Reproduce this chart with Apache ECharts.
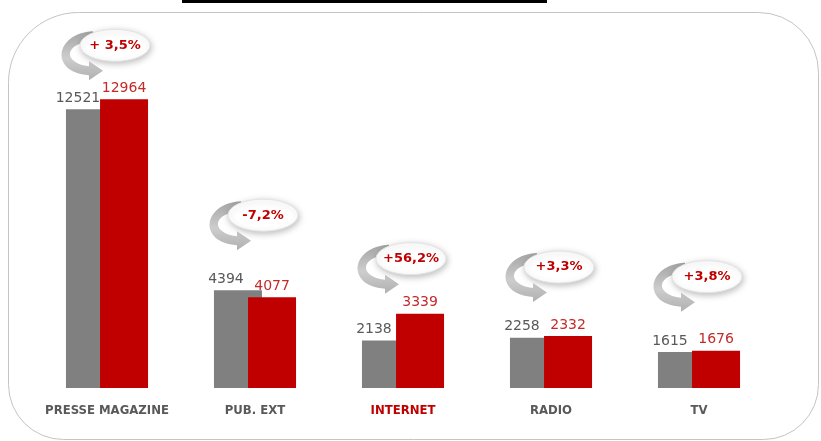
<!DOCTYPE html>
<html>
<head>
<meta charset="utf-8">
<script src="https://cdn.jsdelivr.net/npm/echarts@6/dist/echarts.min.js"></script>
<style>
  html, body { margin: 0; padding: 0; background: #fff; }
  #chart { width: 821px; height: 441px; }
</style>
</head>
<body>
<div id="chart"></div>
<script>
// Media investment by channel, previous year vs current year
const categories = ['PRESSE MAGAZINE', 'PUB. EXT', 'INTERNET', 'RADIO', 'TV'];
const previousYear = [12521, 4394, 2138, 2258, 1615];
const currentYear = [12964, 4077, 3339, 2332, 1676];
const changeLabels = ['+ 3,5%', '-7,2%', '+56,2%', '+3,3%', '+3,8%'];
const highlightCategory = 'INTERNET';

// Layout: how far each change bubble sits above its tallest bar (px)
const bubbleRise = [54, 75, 55, 69, 74];
const bubbleShiftX = 8;

const GREY = '#808080';
const RED = '#c00000';
const TEXT_GREY = '#595959';

const chart = echarts.init(document.getElementById('chart'), null, { renderer: 'canvas' });

// Curved "turn" arrow drawn left of each bubble, in bubble-local pixels
const ARROW_PATH = 'M -22 -14 C -60 -12 -66 27 -26 30 L -26 35 L -12 25.5 L -26 16 L -26 21 C -52 18 -52 -2 -22 -4 Z';
const ELLIPSE_PATH = 'M -35 0 A 35 16 0 1 0 35 0 A 35 16 0 1 0 -35 0 Z';

const bubbleData = categories.map((c, i) => [i, Math.max(previousYear[i], currentYear[i])]);

const option = {
  backgroundColor: '#ffffff',
  animation: false,
  grid: { left: 33, right: 48, top: 54, bottom: 53 },
  xAxis: {
    type: 'category',
    data: categories,
    axisLine: { show: false },
    axisTick: { show: false },
    axisLabel: {
      interval: 0,
      margin: 16,
      fontSize: 13,
      fontWeight: 'bold',
      fontFamily: "'Liberation Sans Narrow', 'DejaVu Sans Condensed', sans-serif",
      color: (value) => value === highlightCategory ? RED : TEXT_GREY
    }
  },
  yAxis: {
    type: 'value',
    min: 0,
    max: 15000,
    show: false,
    splitLine: { show: false }
  },
  graphic: [
    {
      type: 'rect',
      z: -10,
      shape: { x: 182, y: 0, width: 365, height: 3 },
      style: { fill: '#000' }
    },
    {
      type: 'rect',
      z: -10,
      shape: { x: 8.5, y: 12.5, width: 810, height: 427, r: [70, 60, 55, 55] },
      style: { fill: 'none', stroke: '#c4c4c4', lineWidth: 1 }
    }
  ],
  series: [
    {
      type: 'bar',
      data: previousYear,
      barWidth: 48,
      barGap: '-29%',
      itemStyle: { color: GREY },
      label: {
        show: true,
        position: 'top',
        distance: 4,
        offset: [-12, 0],
        color: TEXT_GREY,
        fontSize: 14,
        fontFamily: "'DejaVu Sans', sans-serif"
      }
    },
    {
      type: 'bar',
      data: currentYear,
      barWidth: 48,
      barGap: '-29%',
      itemStyle: { color: RED },
      label: {
        show: true,
        position: 'top',
        distance: 4,
        color: '#c42a2a',
        fontSize: 14,
        fontFamily: "'DejaVu Sans', sans-serif"
      }
    },
    {
      type: 'custom',
      data: bubbleData,
      z: 10,
      clip: false,
      silent: true,
      renderItem: function (params, api) {
        const i = params.dataIndex;
        const p = api.coord([api.value(0), api.value(1)]);
        return {
          type: 'group',
          x: p[0] + bubbleShiftX,
          y: p[1] - bubbleRise[i],
          children: [
            {
              type: 'path',
              shape: { pathData: ARROW_PATH },
              style: {
                fill: {
                  type: 'linear', x: 0, y: 0, x2: 0, y2: 1,
                  colorStops: [
                    { offset: 0, color: '#a4a4a4' },
                    { offset: 0.55, color: '#cdcdcd' },
                    { offset: 1, color: '#b0b0b0' }
                  ]
                }
              }
            },
            {
              type: 'path',
              shape: { pathData: ELLIPSE_PATH },
              style: {
                fill: '#ffffff',
                stroke: '#e4e4e4',
                lineWidth: 1,
                shadowBlur: 6,
                shadowColor: 'rgba(0,0,0,0.25)',
                shadowOffsetX: 1,
                shadowOffsetY: 2
              }
            },
            {
              type: 'text',
              style: {
                text: changeLabels[i],
                x: 0,
                y: 0,
                align: 'center',
                verticalAlign: 'middle',
                fill: RED,
                font: "bold 13px 'DejaVu Sans', sans-serif"
              }
            }
          ]
        };
      }
    }
  ]
};

chart.setOption(option);
</script>
</body>
</html>
